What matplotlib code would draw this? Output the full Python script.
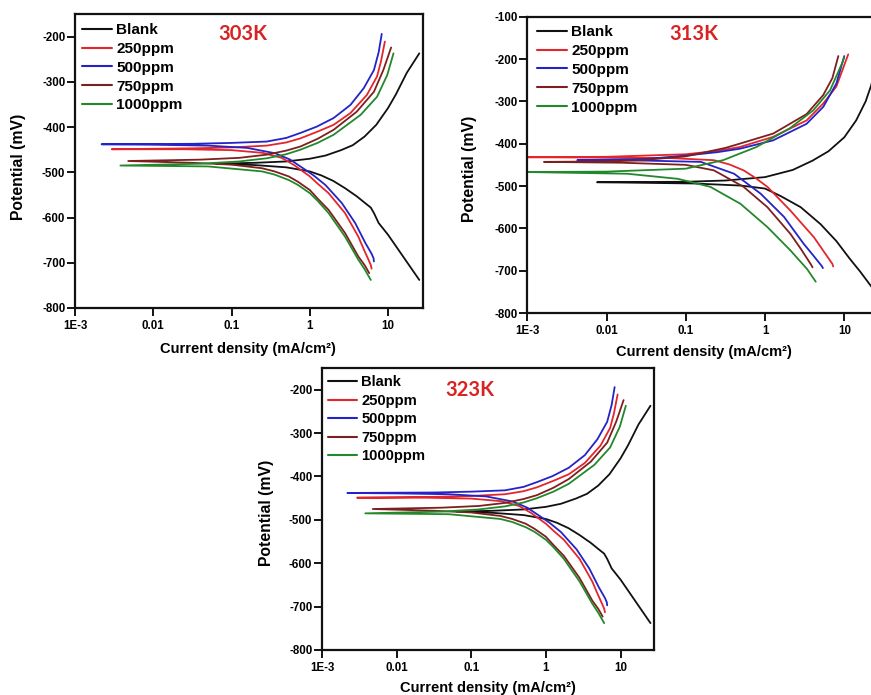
import numpy as np
import matplotlib
matplotlib.use("Agg")
import matplotlib.pyplot as plt
from matplotlib.ticker import NullLocator
from matplotlib.font_manager import FontProperties

plt.rcParams['font.family'] = ['Liberation Sans', 'DejaVu Sans']
plt.rcParams['font.weight'] = 'bold'
plt.rcParams['axes.unicode_minus'] = False

SERIES = ["Blank", "250ppm", "500ppm", "750ppm", "1000ppm"]
COLORS = ["#111111", "#e3262b", "#2323c8", "#7e1f1f", "#23882b"]

X_TICKS = [1e-3, 1e-2, 1e-1, 1, 10]
X_TICK_LABELS = ["1E-3", "0.01", "0.1", "1", "10"]

# ---- 303 K (the 323 K panel shows the same curves) ----
# log10 current density (mA/cm^2) and potential (mV), cathodic end -> Ecorr -> anodic end
T303_BLANK_LOGI = [1.40, 1.20, 1.00, 0.88, 0.82, 0.78, 0.70, 0.60, 0.45, 0.30, 0.15, 0.00, -0.30, -0.70, -1.20,
                   -0.70, -0.30, 0.00, 0.20, 0.40, 0.55, 0.70, 0.85, 1.00, 1.10, 1.24, 1.40]
T303_BLANK_E = [-738, -688, -638, -612, -590, -578, -567, -553, -535, -519, -507, -498, -489, -484, -481,
                -479, -476, -470, -463, -451, -440, -421, -395, -358, -328, -280, -237]
T303_250_LOGI = [0.79, 0.78, 0.75, 0.70, 0.62, 0.45, 0.24, 0.10, 0.00, -0.20, -0.36, -0.60, -1.00, -1.60, -2.53,
                 -1.50, -1.00, -0.55, -0.30, -0.12, 0.10, 0.305, 0.52, 0.73, 0.86, 0.91, 0.96]
T303_250_E = [-713, -705, -693, -674, -642, -590, -546, -525, -509, -484, -468, -457, -451, -449, -449,
              -447, -445, -441, -434, -425, -410, -395, -369, -329, -288, -255, -211]
T303_500_LOGI = [0.82, 0.815, 0.79, 0.71, 0.58, 0.41, 0.20, 0.05, -0.06, -0.25, -0.44, -0.80, -1.30, -2.00, -2.66,
                 -1.50, -1.00, -0.55, -0.30, -0.12, 0.09, 0.305, 0.52, 0.69, 0.82, 0.88, 0.92]
T303_500_E = [-697, -690, -680, -656, -612, -568, -528, -507, -494, -472, -458, -446, -441, -439, -438,
              -437, -435, -432, -424, -413, -399, -380, -351, -314, -274, -235, -194]
T303_750_LOGI = [0.76, 0.70, 0.62, 0.45, 0.24, 0.10, 0.00, -0.15, -0.27, -0.45, -0.61, -1.00, -1.50, -2.32,
                 -1.40, -0.90, -0.55, -0.30, -0.12, 0.10, 0.305, 0.60, 0.82, 0.94, 1.04]
T303_750_E = [-723, -705, -686, -634, -583, -558, -539, -521, -509, -498, -491, -483, -479, -475,
              -472, -468, -461, -452, -443, -426, -406, -366, -322, -274, -224]
T303_1000_LOGI = [0.78, 0.70, 0.62, 0.45, 0.24, 0.10, 0.00, -0.15, -0.27, -0.45, -0.61, -1.30, -2.42,
                  -1.40, -0.90, -0.55, -0.30, -0.12, 0.10, 0.305, 0.65, 0.86, 0.99, 1.07]
T303_1000_E = [-738, -714, -693, -642, -590, -563, -546, -528, -517, -505, -498, -487, -485,
               -481, -476, -469, -460, -450, -435, -417, -373, -333, -285, -237]

# ---- 313 K ----
T313_BLANK_LOGI = [1.45, 1.34, 1.20, 1.07, 0.90, 0.70, 0.45, 0.20, 0.00, -0.30, -0.90, -2.12,
                   -1.00, -0.50, 0.00, 0.35, 0.60, 0.80, 1.00, 1.15, 1.27, 1.34, 1.45]
T313_BLANK_E = [-760, -737, -702, -672, -630, -590, -550, -524, -506, -499, -494, -491,
                -490, -487, -479, -462, -440, -418, -385, -345, -300, -262, -180]
T313_250_LOGI = [0.86, 0.85, 0.75, 0.617, 0.47, 0.32, 0.17, 0.03, -0.12, -0.27, -0.45, -0.645, -1.20, -2.00, -3.00,
                 -2.00, -1.00, -0.60, -0.32, 0.10, 0.525, 0.735, 0.90, 1.05]
T313_250_E = [-690, -684, -657, -621, -590, -558, -529, -502, -481, -463, -449, -439, -434, -433, -432,
              -431, -425, -417, -408, -384, -345, -305, -265, -189]
T313_500_LOGI = [0.73, 0.72, 0.60, 0.49, 0.24, -0.056, -0.39, -0.81, -1.50, -2.37,
                 -1.50, -1.00, -0.60, -0.32, 0.104, 0.525, 0.735, 0.90, 1.00]
T313_500_E = [-694, -690, -662, -637, -573, -518, -471, -443, -440, -439,
              -436, -428, -420, -412, -392, -353, -313, -258, -193]
T313_750_LOGI = [0.60, 0.575, 0.45, 0.32, 0.03, -0.27, -0.645, -1.00, -1.80, -2.79,
                 -2.00, -1.50, -1.00, -0.50, -0.32, 0.104, 0.525, 0.735, 0.85, 0.925]
T313_750_E = [-692, -684, -648, -613, -550, -502, -463, -450, -445, -443,
              -442, -438, -430, -410, -400, -376, -330, -285, -245, -193]
T313_1000_LOGI = [0.64, 0.53, 0.32, 0.03, -0.31, -0.69, -1.10, -1.74, -3.00,
                  -2.00, -1.00, -0.53, -0.11, 0.31, 0.61, 0.82, 0.97, 1.00]
T313_1000_E = [-726, -696, -652, -597, -542, -502, -483, -471, -467,
               -466, -459, -439, -408, -364, -321, -274, -211, -196]

T303_CURVES = [(T303_BLANK_LOGI, T303_BLANK_E), (T303_250_LOGI, T303_250_E), (T303_500_LOGI, T303_500_E),
               (T303_750_LOGI, T303_750_E), (T303_1000_LOGI, T303_1000_E)]
T313_CURVES = [(T313_BLANK_LOGI, T313_BLANK_E), (T313_250_LOGI, T313_250_E), (T313_500_LOGI, T313_500_E),
               (T313_750_LOGI, T313_750_E), (T313_1000_LOGI, T313_1000_E)]
T323_CURVES = T303_CURVES

W, H = 871, 695
fig = plt.figure(figsize=(W / 100, H / 100), dpi=100)


def rect(l, t, r, b):
    return [l / W, 1 - b / H, (r - l) / W, (b - t) / H]


def fx(x):
    return x / W


def fy(y):
    return 1 - y / H


def draw_panel(ax, curves, ylim, yticks, title, title_xy, leg_xy, leg_size, leg_sp, xlabel_xy, ylabel_xy):
    handles = []
    for (logi, e), c, name in zip(curves, COLORS, SERIES):
        h, = ax.plot(10.0 ** np.array(logi), e, color=c, lw=1.3, label=name,
                     solid_joinstyle='round', solid_capstyle='round')
        handles.append(h)
    ax.set_xscale('log')
    ax.set_xlim(1e-3, 28)
    ax.set_ylim(*ylim)
    ax.set_xticks(X_TICKS, labels=X_TICK_LABELS)
    ax.xaxis.set_minor_locator(NullLocator())
    ax.set_yticks(yticks, labels=[str(t) for t in yticks])
    ax.tick_params(direction='out', length=5.5, width=1.3, labelsize=8.3)
    ax.tick_params(axis='x', pad=3)
    ax.tick_params(axis='y', pad=1.5)
    for s in ax.spines.values():
        s.set_linewidth(1.6)
        s.set_color('#111111')
    fig.text(fx(title_xy[0]), fy(title_xy[1]), title, color='#d92323', fontsize=14.5,
             family='Lato', fontweight='bold', ha='center', va='center')
    leg = ax.legend(handles=handles, loc='upper left', bbox_to_anchor=(fx(leg_xy[0]), fy(leg_xy[1])),
                    bbox_transform=fig.transFigure, frameon=False, borderpad=0, borderaxespad=0,
                    handlelength=1.95, handletextpad=0.3, labelspacing=leg_sp,
                    prop=FontProperties(family='Liberation Sans', weight='bold', size=leg_size))
    for ln in leg.get_lines():
        ln.set_linewidth(1.5)
    fig.text(fx(xlabel_xy[0]), fy(xlabel_xy[1]), "Current density (mA/cm²)", fontsize=10.5,
             fontweight='bold', ha='center', va='center')
    fig.text(fx(ylabel_xy[0]), fy(ylabel_xy[1]), "Potential (mV)", fontsize=11.3,
             fontweight='bold', ha='center', va='center', rotation=90)


ax1 = fig.add_axes(rect(75, 14, 423, 308))
ax2 = fig.add_axes(rect(527.3, 16.7, 879.7, 313))
ax3 = fig.add_axes(rect(322, 368, 654, 650))

draw_panel(ax1, T303_CURVES, (-800, -150), [-800, -700, -600, -500, -400, -300, -200], "303K",
           (243, 34), (82, 23.3), 11, 0.31, (248, 349), (18, 167))
draw_panel(ax2, T313_CURVES, (-800, -100), [-800, -700, -600, -500, -400, -300, -200, -100], "313K",
           (694, 34), (537, 25), 11, 0.32, (704, 352), (469, 169))
draw_panel(ax3, T323_CURVES, (-800, -150), [-800, -700, -600, -500, -400, -300, -200], "323K",
           (470, 390), (328, 375.5), 10.6, 0.3, (488, 688), (266.7, 513))

fig.savefig("out.png", dpi=100)
